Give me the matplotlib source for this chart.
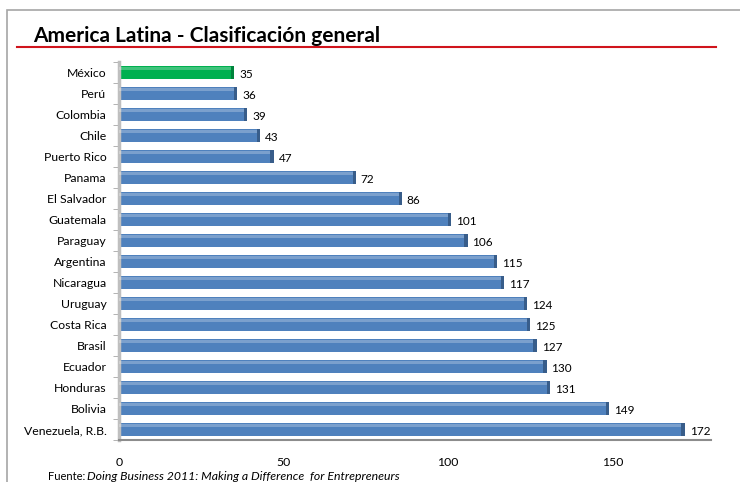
import matplotlib
matplotlib.use("Agg")
import matplotlib.pyplot as plt
from matplotlib.patches import Rectangle
from matplotlib.lines import Line2D

# data
paises = ['México', 'Perú', 'Colombia', 'Chile', 'Puerto Rico', 'Panama',
          'El Salvador', 'Guatemala', 'Paraguay', 'Argentina', 'Nicaragua',
          'Uruguay', 'Costa Rica', 'Brasil', 'Ecuador', 'Honduras', 'Bolivia',
          'Venezuela, R.B.']
ranking = [35, 36, 39, 43, 47, 72, 86, 101, 106, 115, 117, 124, 125, 127,
           130, 131, 149, 172]
xticks = [0, 50, 100, 150]

plt.rcParams['font.family'] = ['Lato', 'DejaVu Sans']

fig = plt.figure(figsize=(7.4, 4.82), dpi=100)

# outer frame
fig.patches.append(Rectangle((7 / 740, -0.1), 1.2, 1.1 - 10 / 482,
                             transform=fig.transFigure, fill=False,
                             edgecolor='#a6a6a6', lw=1.2))

# title and red rule
fig.text(33 / 740, 1 - 36 / 482, 'America Latina - Clasificación general',
         fontsize=15, fontweight='bold', va='center', ha='left')
fig.lines.append(Line2D([17 / 740, 716 / 740], [1 - 47 / 482, 1 - 47 / 482],
                        transform=fig.transFigure, color='#d0141c', lw=1.5))

ax = fig.add_axes([119 / 740, 42 / 482, 592 / 740, 378 / 482])

ypos = list(range(len(paises)))
colores = ['#00b050' if p == 'México' else '#4f81bd' for p in paises]
bordes = ['#00843c' if p == 'México' else '#385d8a' for p in paises]

ax.barh(ypos, ranking, height=0.6, color=colores, edgecolor='none', zorder=2)
# darker end caps for the 3D look
ax.barh(ypos, [1.0] * len(ranking), left=[r - 1.0 for r in ranking],
        height=0.6, color=bordes, edgecolor='none', zorder=3)
# light highlight on top
ax.barh([y - 0.2 for y in ypos], [r - 1.0 for r in ranking], height=0.12,
        color='white', alpha=0.25, edgecolor='none', zorder=3)

for y, r in zip(ypos, ranking):
    ax.text(r + 1.5, y + 0.1, str(r), va='center', ha='left', fontsize=8.5)

ax.set_ylim(len(paises) - 0.5, -0.5)
ax.set_xlim(0, 180)
ax.set_yticks(ypos)
ax.set_yticklabels(paises, fontsize=8.8)
ax.set_xticks(xticks)
ax.set_xticklabels([str(t) for t in xticks], fontsize=8.8)

ax.tick_params(axis='y', length=0, pad=9)
ax.tick_params(axis='x', length=0, pad=12)
ax.set_yticks([y + 0.5 for y in [-1] + ypos], minor=True)
ax.tick_params(axis='y', which='minor', length=4, color='#a6a6a6')

for s in ['top', 'right']:
    ax.spines[s].set_visible(False)
ax.spines['left'].set_color('#bfbfbf')
ax.spines['left'].set_linewidth(2.5)
ax.spines['bottom'].set_color('#8c8c8c')
ax.spines['bottom'].set_linewidth(1.5)

fig.text(48 / 740, 1 - 476 / 482, 'Fuente:', fontsize=8, va='center',
         ha='left')
fig.text(87 / 740, 1 - 476 / 482,
         'Doing Business 2011: Making a Difference  for Entrepreneurs',
         fontsize=8.8, style='italic', va='center', ha='left')

fig.savefig('out.png', dpi=100)
